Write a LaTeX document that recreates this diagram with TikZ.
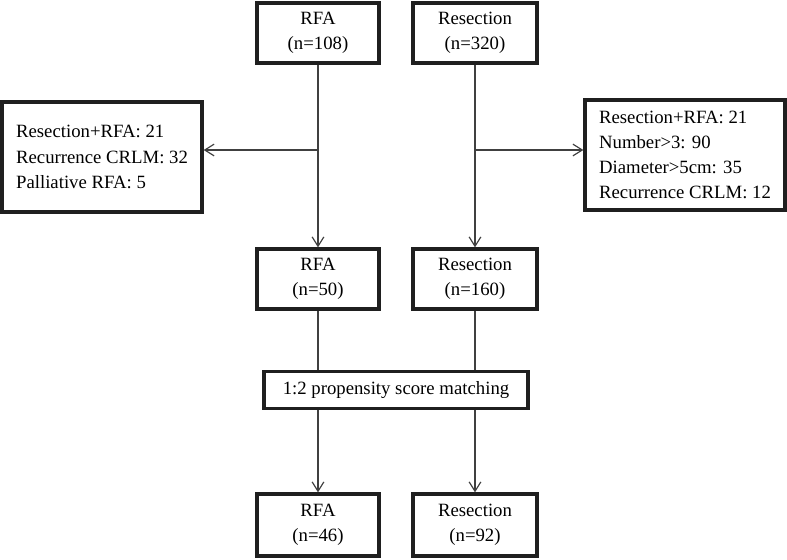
\documentclass[tikz,border=0pt]{standalone}
\usepackage{fontspec}
\setmainfont{Liberation Serif}
\usetikzlibrary{arrows.meta}

\begin{document}
\begin{tikzpicture}[x=0.03cm, y=-0.03cm,
		font=\fontsize{16}{21.5}\selectfont,
		box/.style={draw=black!88, line width=2.8pt, align=center, inner sep=0pt,
			minimum width=3.66cm, minimum height=1.8cm},
		listbox/.style={draw=black!88, line width=2.8pt, align=left, inner sep=0pt,
			minimum width=6cm, minimum height=3.3cm},
		arr/.style={draw=black!75, line width=1pt, -{Straight Barb[length=8pt, width=10pt]}},
		plain/.style={draw=black!75, line width=1pt}]
				\useasboundingbox (0,0) rectangle (787,559);
				% first selection
				\node[box] (rfaA) at (318, 33) {RFA\\(n=108)};
				\node[box, minimum width=3.72cm] (resA) at (475, 33) {Resection\\(n=320)};
				\node[listbox] (exclL) at (102, 157) {Resection+RFA: 21\\Recurrence CRLM: 32\\Palliative RFA: 5};
				\node[listbox] (exclR) at (685, 155) {Resection+RFA: 21\\Number>3: 90\\Diameter>5cm: 35\\Recurrence CRLM: 12};
				\node[box] (rfaB) at (318, 279) {RFA\\(n=50)};
				\node[box, minimum width=3.72cm] (resB) at (475, 279) {Resection\\(n=160)};
				% matching
				\node[box, minimum width=7.92cm, minimum height=1.11cm] (psm) at (396, 390) {1:2 propensity score matching};
				\node[box, minimum height=1.86cm] (rfaC) at (318, 525) {RFA\\(n=46)};
				\node[box, minimum width=3.72cm, minimum height=1.86cm] (resC) at (475, 525) {Resection\\(n=92)};
				\coordinate (brL) at (318, 150);
				\coordinate (brR) at (475, 150);
				\draw[arr] (rfaA) -- (rfaB);
				\draw[arr] (resA) -- (resB);
				\draw[arr] (brL) -- (brL -| exclL.east);
				\draw[arr] (brR) -- (brR -| exclR.west);
				\draw[plain] (rfaB) -- (rfaB |- psm.north);
				\draw[plain] (resB) -- (resB |- psm.north);
				\draw[arr] (rfaB |- psm.south) -- (rfaC);
				\draw[arr] (resB |- psm.south) -- (resC);
			\end{tikzpicture}
\end{document}
